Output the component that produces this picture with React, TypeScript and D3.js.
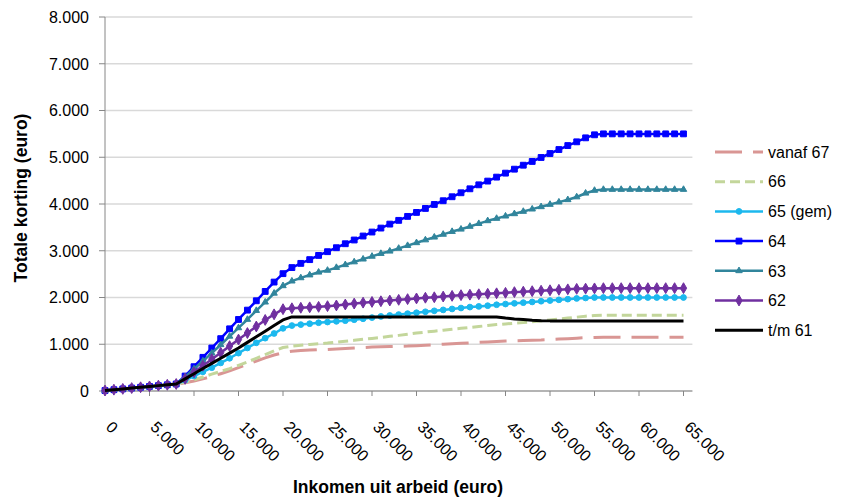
import React from "react";
import * as d3 from "d3";

const W = 847;
const H = 497;

// income categories (euro), one point per 1.000
const income: number[] = d3.range(0, 66000, 1000);
const xTicks: number[] = d3.range(0, 70000, 5000);
const yTicks: number[] = d3.range(0, 9000, 1000);

const vanaf67: number[] = [
  10, 28, 45, 63, 80, 98, 115, 133, 150,
  175, 215, 260, 310, 370, 430, 500, 570, 640, 710, 770, 820,
  850, 865, 875, 885, 890, 900, 910, 920, 930, 940,
  945, 950, 955, 960, 970, 980, 990, 1000, 1010, 1020,
  1030, 1040, 1050, 1060, 1070, 1075, 1080, 1085, 1090, 1100,
  1110, 1120, 1130, 1140, 1145, 1150, 1150, 1150, 1150, 1150,
  1150, 1150, 1150, 1150, 1150,
];
const s66: number[] = [
  10, 28, 45, 63, 80, 98, 115, 133, 150,
  190, 240, 300, 360, 420, 480, 550, 620, 700, 780, 860, 930,
  960, 980, 995, 1010, 1025, 1045, 1065, 1085, 1105, 1125,
  1145, 1170, 1190, 1215, 1240, 1260, 1280, 1300, 1320, 1340,
  1360, 1380, 1400, 1420, 1435, 1450, 1465, 1480, 1500, 1520,
  1540, 1560, 1580, 1600, 1615, 1620, 1620, 1620, 1620, 1620,
  1620, 1620, 1620, 1620, 1620,
];
const s65: number[] = [
  10, 28, 45, 63, 80, 98, 115, 133, 150,
  230, 320, 410, 500, 600, 700, 810, 920, 1030, 1130, 1230, 1340,
  1400, 1420, 1440, 1460, 1475, 1490, 1505, 1525, 1545, 1570,
  1595, 1615, 1635, 1655, 1675, 1695, 1715, 1735, 1755, 1775,
  1795, 1810, 1825, 1845, 1860, 1875, 1890, 1905, 1920, 1935,
  1950, 1965, 1980, 1990, 2000, 2000, 2000, 2000, 2000, 2000,
  2000, 2000, 2000, 2000, 2000,
];
const s64: number[] = [
  10, 28, 45, 63, 80, 98, 115, 133, 150,
  320, 520, 720, 920, 1120, 1330, 1530, 1730, 1930, 2130, 2330, 2510,
  2640, 2730, 2810, 2900, 2980, 3065, 3150, 3230, 3315, 3400,
  3485, 3570, 3650, 3735, 3820, 3905, 3990, 4070, 4155, 4240,
  4325, 4410, 4490, 4575, 4660, 4745, 4830, 4910, 4995, 5080,
  5165, 5250, 5330, 5415, 5480, 5500, 5500, 5500, 5500, 5500,
  5500, 5500, 5500, 5500, 5500,
];
const s63: number[] = [
  10, 28, 45, 63, 80, 98, 115, 133, 150,
  300, 470, 640, 810, 990, 1170, 1350, 1530, 1720, 1900, 2090, 2250,
  2350, 2420, 2480, 2540, 2580, 2640, 2700, 2760, 2820, 2880,
  2940, 2990, 3050, 3110, 3170, 3230, 3290, 3350, 3410, 3460,
  3520, 3580, 3640, 3690, 3740, 3790, 3840, 3890, 3940, 3990,
  4040, 4090, 4150, 4230, 4290, 4310, 4310, 4310, 4310, 4310,
  4310, 4310, 4310, 4310, 4310,
];
const s62: number[] = [
  10, 28, 45, 63, 80, 98, 115, 133, 150,
  260, 400, 540, 680, 820, 960, 1100, 1240, 1380, 1520, 1640, 1750,
  1770, 1780, 1790, 1800, 1815, 1830, 1850, 1870, 1890, 1905,
  1920, 1935, 1950, 1965, 1980, 1995, 2005, 2020, 2035, 2050,
  2060, 2070, 2080, 2090, 2100, 2115, 2125, 2135, 2145, 2155,
  2165, 2175, 2185, 2190, 2195, 2200, 2200, 2200, 2200, 2200,
  2200, 2200, 2200, 2200, 2200,
];
const tm61: number[] = [
  10, 28, 45, 63, 80, 98, 115, 133, 150,
  260, 370, 480, 590, 700, 810, 920, 1040, 1160, 1280, 1400, 1520,
  1585, 1585, 1585, 1585, 1585, 1585, 1585, 1585, 1585, 1585,
  1585, 1585, 1585, 1585, 1585, 1585, 1585, 1585, 1585, 1585,
  1585, 1585, 1585, 1585, 1560, 1540, 1530, 1515, 1505, 1500,
  1500, 1500, 1500, 1500, 1500, 1500, 1500, 1500, 1500, 1500,
  1500, 1500, 1500, 1500, 1500,
];

type Series = {
  name: string;
  values: number[];
  color: string;
  width: number;
  dash?: string;
  marker?: d3.SymbolType;
  markerSize?: number;
};

const series: Series[] = [
  { name: "vanaf 67", values: vanaf67, color: "#D99694", width: 3, dash: "27,11" },
  { name: "66", values: s66, color: "#C3D69B", width: 3, dash: "10,5" },
  { name: "65 (gem)", values: s65, color: "#1CB8EE", width: 2.5, marker: d3.symbolCircle, markerSize: 26 },
  { name: "64", values: s64, color: "#0000FF", width: 2.5, marker: d3.symbolSquare, markerSize: 34 },
  { name: "63", values: s63, color: "#31859C", width: 2.5, marker: d3.symbolTriangle, markerSize: 18 },
  { name: "62", values: s62, color: "#7030A0", width: 2.5, marker: d3.symbolDiamond, markerSize: 34 },
  { name: "t/m 61", values: tm61, color: "#000000", width: 3 },
];

const FONT = "'Liberation Sans', Arial, sans-serif";
const fmt = (v: number) => (v === 0 ? "0" : d3.format(",")(v).replace(/,/g, "."));

export default function App() {
  const x = d3.scaleLinear().domain([0, 66000]).range([105, 692.4]);
  const y = d3.scaleLinear().domain([0, 8000]).range([391, 17]);
  const line = d3
    .line<number>()
    .x((_, i) => x(income[i]))
    .y((d) => y(d));

  const legendX = 715;
  const legendY0 = 152;
  const legendStep = 29.7;

  return (
    <svg
      width={W}
      height={H}
      style={{ position: "absolute", left: 0, top: 0, display: "block", background: "#fff" }}
      fontFamily={FONT}
    >
      {/* gridlines */}
      {yTicks.map((t) => (
        <line key={"g" + t} x1={x(0)} x2={x(66000)} y1={y(t)} y2={y(t)} stroke="#D9D9D9" strokeWidth={1.3} />
      ))}
      {/* y axis */}
      <line x1={x(0)} x2={x(0)} y1={y(8000)} y2={y(0)} stroke="#868686" strokeWidth={1} />
      {yTicks.map((t) => (
        <g key={"yt" + t}>
          <line x1={x(0) - 6} x2={x(0)} y1={y(t)} y2={y(t)} stroke="#868686" />
          <text x={89} y={y(t)} dy="0.36em" textAnchor="end" fontSize={16} fill="#000">
            {fmt(t)}
          </text>
        </g>
      ))}
      {/* x axis */}
      <line x1={x(0)} x2={x(66000)} y1={y(0)} y2={y(0)} stroke="#868686" strokeWidth={1} />
      {xTicks.map((t) => (
        <g key={"xt" + t}>
          <line x1={x(t)} x2={x(t)} y1={y(0)} y2={y(0) + 5} stroke="#868686" />
          <text
            transform={`translate(${x(t)},${428}) rotate(45)`}
            textAnchor="start"
            fontSize={16}
            fill="#000"
          >
            {fmt(t)}
          </text>
        </g>
      ))}
      {/* series */}
      {series.map((s) => (
        <g key={s.name}>
          <path
            d={line(s.values) || ""}
            fill="none"
            stroke={s.color}
            strokeWidth={s.width}
            strokeDasharray={s.dash}
            strokeLinejoin="round"
          />
          {s.marker &&
            s.values.map((v, i) => (
              <path
                key={i}
                d={d3.symbol().type(s.marker!).size(s.markerSize!)() || ""}
                transform={`translate(${x(income[i])},${y(v)})`}
                fill={s.color}
                stroke={s.color}
                strokeWidth={1}
              />
            ))}
        </g>
      ))}
      {/* axis titles */}
      <text
        transform={`translate(27,198) rotate(-90)`}
        textAnchor="middle"
        fontSize={17.5}
        fontWeight="bold"
        fill="#000"
      >
        Totale korting (euro)
      </text>
      <text x={398} y={493} textAnchor="middle" fontSize={17.5} fontWeight="bold" fill="#000">
        Inkomen uit arbeid (euro)
      </text>
      {/* legend */}
      {series.map((s, i) => {
        const ly = legendY0 + i * legendStep;
        return (
          <g key={"lg" + s.name}>
            <line
              x1={legendX}
              x2={legendX + 48}
              y1={ly}
              y2={ly}
              stroke={s.color}
              strokeWidth={s.width}
              strokeDasharray={s.dash}
            />
            {s.marker && (
              <path
                d={d3.symbol().type(s.marker).size(s.markerSize!)() || ""}
                transform={`translate(${legendX + 24},${ly})`}
                fill={s.color}
                stroke={s.color}
              />
            )}
            <text x={legendX + 53} y={ly} dy="0.36em" fontSize={16} fill="#000">
              {s.name}
            </text>
          </g>
        );
      })}
    </svg>
  );
}
